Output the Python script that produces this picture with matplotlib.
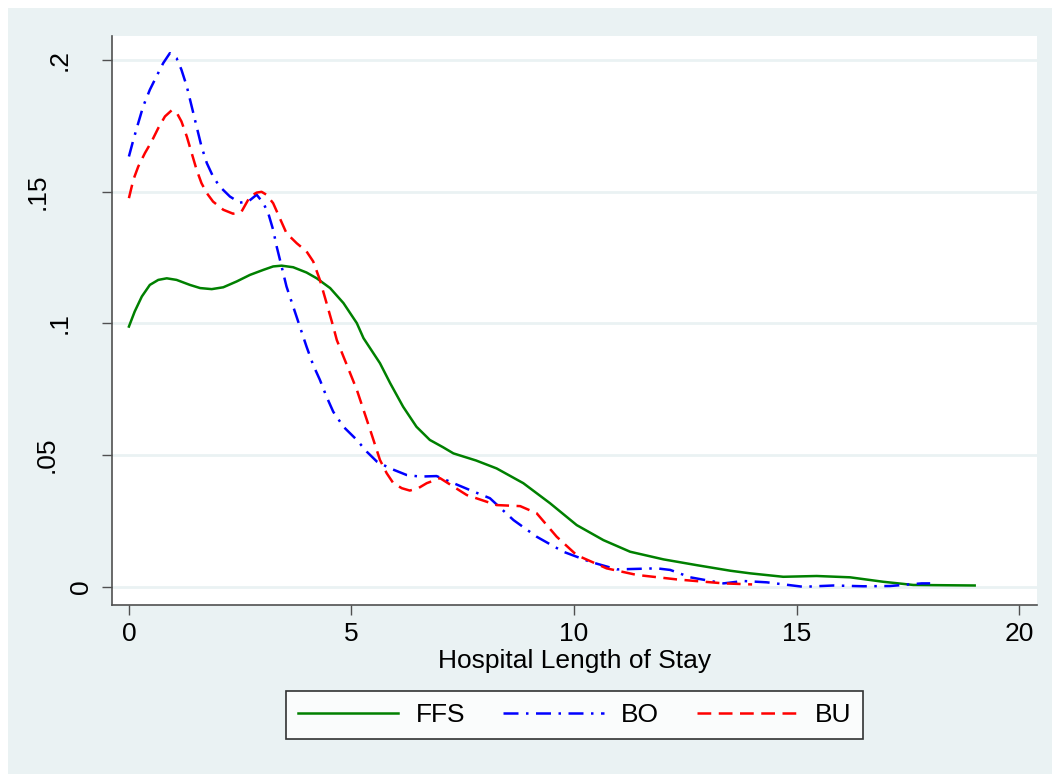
import matplotlib
matplotlib.use('Agg')
import matplotlib.pyplot as plt
import matplotlib.transforms as mtransforms
from matplotlib.patches import Rectangle

plt.rcParams['font.family'] = ['Liberation Sans', 'DejaVu Sans']

# values (kernel density curves)
ffs_x = [0, 0.13, 0.29, 0.47, 0.66, 0.85, 1.07, 1.37, 1.60, 1.86, 2.12, 2.42,
         2.72, 3.02, 3.24, 3.43, 3.69, 3.99, 4.22, 4.52, 4.82, 5.12, 5.27, 5.64,
         5.87, 6.16, 6.46, 6.76, 7.06, 7.29, 7.8, 8.26, 8.86, 9.46, 10.06, 10.66,
         11.26, 12.01, 12.76, 13.51, 13.96, 14.7, 15.45, 16.2, 16.95, 17.62, 19.0]
ffs_y = [0.0988, 0.1045, 0.1102, 0.1146, 0.1165, 0.1171, 0.1165, 0.1146, 0.1134,
         0.1130, 0.1137, 0.1159, 0.1184, 0.1203, 0.1216, 0.1219, 0.1213, 0.1193,
         0.1171, 0.1134, 0.1077, 0.1001, 0.0944, 0.0849, 0.0773, 0.0684, 0.0608,
         0.0558, 0.0530, 0.0507, 0.0480, 0.0450, 0.0394, 0.0318, 0.0235, 0.0178,
         0.0134, 0.0105, 0.0083, 0.0062, 0.0052, 0.0039, 0.0042, 0.0037, 0.0020,
         0.0008, 0.0006]

bo_x = [0, 0.10, 0.21, 0.32, 0.47, 0.62, 0.77, 0.92, 1.07, 1.18, 1.30, 1.41,
        1.52, 1.63, 1.75, 1.89, 2.04, 2.27, 2.49, 2.68, 2.87, 3.02, 3.13, 3.24,
        3.32, 3.43, 3.54, 3.69, 3.84, 3.99, 4.14, 4.29, 4.44, 4.59, 4.82, 5.12,
        5.34, 5.57, 5.87, 6.24, 6.54, 6.91, 7.66, 8.11, 8.64, 9.16, 9.76, 10.36,
        10.96, 11.86, 12.16, 12.61, 13.36, 13.8, 14.33, 15.15, 15.83, 16.5,
        17.1, 17.81, 18.0]
bo_y = [0.1633, 0.1696, 0.1760, 0.1823, 0.1886, 0.1937, 0.1987, 0.2025, 0.2006,
        0.1962, 0.1899, 0.1823, 0.1747, 0.1671, 0.1608, 0.1557, 0.1519, 0.1481,
        0.1458, 0.1462, 0.1488, 0.1456, 0.1418, 0.1355, 0.1291, 0.1216, 0.1140,
        0.1064, 0.0988, 0.0912, 0.0842, 0.0786, 0.0722, 0.0665, 0.0608, 0.0558,
        0.0514, 0.0476, 0.0450, 0.0425, 0.0419, 0.0421, 0.0368, 0.0337, 0.0254,
        0.0191, 0.0134, 0.0096, 0.0067, 0.0071, 0.0065, 0.0037, 0.0014, 0.0023,
        0.0018, 0.0001, 0.0006, 0.0003, 0.0004, 0.0014, 0.0014]

bu_x = [0, 0.10, 0.21, 0.36, 0.51, 0.66, 0.81, 0.96, 1.07, 1.18, 1.30, 1.41,
        1.52, 1.63, 1.75, 1.89, 2.12, 2.34, 2.53, 2.72, 2.87, 2.98, 3.09, 3.24,
        3.39, 3.54, 3.77, 3.99, 4.14, 4.29, 4.44, 4.59, 4.67, 4.82, 5.12, 5.42,
        5.64, 5.79, 5.94, 6.13, 6.31, 6.50, 6.69, 6.99, 7.59, 8.26, 8.79, 9.16,
        9.61, 10.06, 10.73, 11.41, 12.31, 13.36, 14.0]
bu_y = [0.1475, 0.1545, 0.1595, 0.1646, 0.1690, 0.1741, 0.1785, 0.1808, 0.1800,
        0.1766, 0.1709, 0.1646, 0.1583, 0.1532, 0.1494, 0.1462, 0.1431, 0.1416,
        0.1424, 0.1481, 0.1496, 0.1499, 0.1488, 0.1456, 0.1399, 0.1342, 0.1304,
        0.1273, 0.1235, 0.1165, 0.1077, 0.0988, 0.0937, 0.0874, 0.0748, 0.0596,
        0.0482, 0.0432, 0.0394, 0.0375, 0.0366, 0.0375, 0.0394, 0.0413, 0.0349,
        0.0311, 0.0307, 0.0280, 0.0191, 0.0121, 0.0071, 0.0046, 0.0029, 0.0014,
        0.0010]

xticks = [0, 5, 10, 15, 20]
yticks = [0, 0.05, 0.1, 0.15, 0.2]
ytick_labels = ['0', '.05', '.1', '.15', '.2']

bg = '#EAF2F3'
W, H = 1052, 774

fig = plt.figure(figsize=(W / 100, H / 100), dpi=100, facecolor=bg)
# white margin on the left and top edges
fig.patches.append(Rectangle((0, 0), 8 / W, 1, transform=fig.transFigure,
                             facecolor='white', edgecolor='none', zorder=-1))
fig.patches.append(Rectangle((0, 1 - 8 / H), 1, 8 / H, transform=fig.transFigure,
                             facecolor='white', edgecolor='none', zorder=-1))

ax = fig.add_axes([112 / W, 1 - 605 / H, (1037 - 112) / W, (605 - 36) / H])
ax.set_facecolor('white')

ax.plot(ffs_x, ffs_y, color='#008000', lw=1.8, label='FFS')
ax.plot(bo_x, bo_y, color='#0000FF', lw=1.8, dashes=(6, 3, 1, 3), label='BO')
ax.plot(bu_x, bu_y, color='#FF0000', lw=1.8, dashes=(5.5, 3), label='BU')

ax.set_xlim(-0.38, 20.4)
ax.set_ylim(-0.0068, 0.209)

for yv in yticks:
    ax.axhline(yv, color=bg, lw=2, zorder=0)

for s in ['top', 'right']:
    ax.spines[s].set_visible(False)
for s in ['left', 'bottom']:
    ax.spines[s].set_color('#505050')
    ax.spines[s].set_linewidth(1.2)

ax.set_xticks(xticks)
ax.set_xticklabels([str(v) for v in xticks])
ax.set_yticks(yticks)
ax.set_yticklabels(ytick_labels, rotation=90, va='center', ha='center')
ax.tick_params(axis='both', length=7.5, width=1.0, color='#505050',
               labelsize=19, labelcolor='black')
ax.tick_params(axis='x', pad=5)
ax.tick_params(axis='y', pad=30)

# Stata shifts the rotated labels depending on their length
shift_px = {'0': 21, '.05': -13, '.1': 0, '.15': -22, '.2': 0}
for lab, txt in zip(ax.get_yticklabels(), ytick_labels):
    off = mtransforms.ScaledTranslation(shift_px[txt] / 100, 0, fig.dpi_scale_trans)
    lab.set_transform(lab.get_transform() + off)

ax.set_xlabel('Hospital Length of Stay', fontsize=19, labelpad=2)

leg = fig.legend(loc='upper center', bbox_to_anchor=(574.5 / W, 1 - 691 / H),
                 ncol=3, fontsize=19, frameon=True, fancybox=False,
                 handlelength=3.8, handletextpad=0.65, columnspacing=1.45,
                 borderpad=0.45, borderaxespad=0)
leg.get_frame().set_edgecolor('black')
leg.get_frame().set_linewidth(1.2)
leg.get_frame().set_facecolor('white')

fig.savefig('out.png', dpi=100, facecolor=bg)
